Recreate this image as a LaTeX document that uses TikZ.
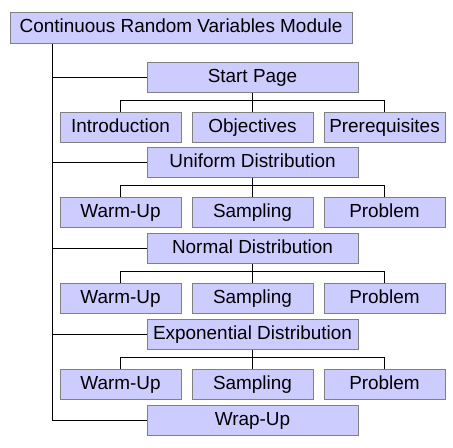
\documentclass[tikz,border=0pt]{standalone}
\usepackage{fontspec}
\setmainfont{Liberation Sans}
\usetikzlibrary{positioning,calc}
\definecolor{lilac}{RGB}{204,204,255}
\definecolor{frame}{RGB}{128,128,128}
\begin{document}
\begin{tikzpicture}[x=0.75pt,y=-0.75pt,
    box/.style={fill=lilac,draw=frame,line width=0.75pt,minimum height=22.5pt,inner sep=0pt,
      text height=10.5pt,text depth=3pt,font=\fontsize{14.2}{16}\selectfont},
    page/.style={box,minimum width=158.25pt},
    sub/.style={box,minimum width=90.75pt},
    link/.style={line width=0.75pt}]
    \useasboundingbox (0,0) rectangle (453,447);
    \node[box,minimum width=256.5pt,minimum height=23.25pt] (mod) at (181,27.5) {Continuous Random Variables Module};
    \coordinate (trunk) at (52,0);
    \foreach \n/\y/\t in {start/77/Start Page,unif/162/Uniform Distribution,norm/248/Normal Distribution,
                          expo/334/Exponential Distribution,wrap/420.5/Wrap-Up}{
      \node[page] (\n) at (252.5,\y) {\t};
      \draw[link] (trunk |- \n.west) -- (\n.west);
    }
    \draw[link] (mod.south -| trunk) -- (trunk |- wrap.west);
    \foreach \n/\a/\b/\c in {start/Introduction/Objectives/Prerequisites,unif/Warm-Up/Sampling/Problem,
                             norm/Warm-Up/Sampling/Problem,expo/Warm-Up/Sampling/Problem}{
      \node[sub,below=14.25pt of \n] (\n-mid) {\b};
      \node[sub,left=7.5pt of \n-mid] (\n-left) {\a};
      \node[sub,right=7.5pt of \n-mid] (\n-right) {\c};
      \draw[link] (\n.south) -- (\n-mid.north);
      \draw[link] (\n-left.north) |- ($(\n.south)+(0,8)$) -| (\n-right.north);
    }
  \end{tikzpicture}
\end{document}
